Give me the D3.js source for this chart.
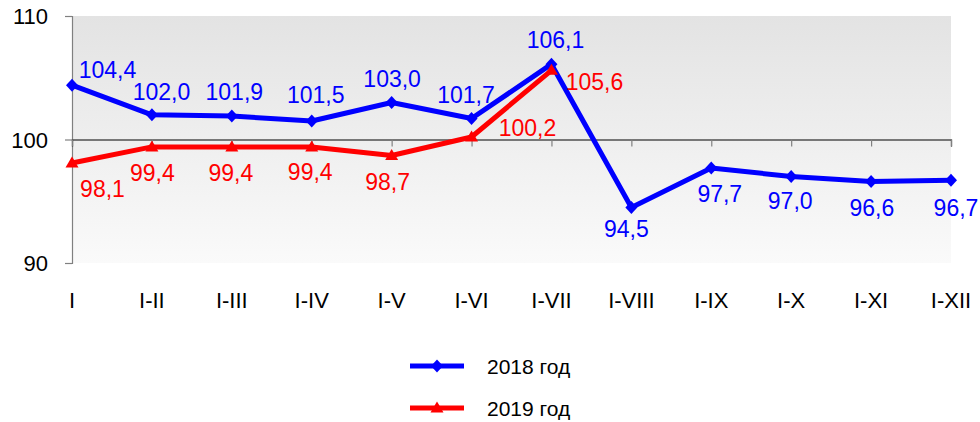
<!DOCTYPE html>
<html>
<head>
<meta charset="utf-8">
<script src="https://cdn.jsdelivr.net/npm/d3@7"></script>
<style>
  html, body { margin: 0; padding: 0; background: #ffffff; }
  svg { display: block; font-family: "Liberation Sans", Arial, sans-serif; }
</style>
</head>
<body>
<div id="chart"></div>
<script>
// ---- data ----
const categories = ["I", "I-II", "I-III", "I-IV", "I-V", "I-VI", "I-VII", "I-VIII", "I-IX", "I-X", "I-XI", "I-XII"];
const values2018 = [104.4, 102.0, 101.9, 101.5, 103.0, 101.7, 106.1, 94.5, 97.7, 97.0, 96.6, 96.7];
const values2019 = [98.1, 99.4, 99.4, 99.4, 98.7, 100.2, 105.6];
const yTicks = [90, 100, 110];
const seriesNames = ["2018 год", "2019 год"];

// label placement (dx, dy relative to point) – layout only
const labelOffsets2018 = [[35.5, -7], [9.5, -15], [2.5, -16], [4, -18], [0.5, -15.5], [-5.5, -15.5], [4, -16], [-5, 30], [8.5, 34], [-1, 32.5], [0.8, 34.5], [5, 36]];
const labelOffsets2019 = [[30.5, 34], [0.5, 34], [-1, 34], [-1.5, 33], [-4, 34.5], [56, -1], [43, 20]];

const W = 980, H = 422;
const mLeft = 72, mRight = 951, mTop = 16, mBottom = 263;

const svg = d3.select("#chart").append("svg").attr("width", W).attr("height", H);

const x = d3.scalePoint().domain(categories).range([mLeft, mRight]).padding(0);
const y = d3.scaleLinear().domain([90, 110]).range([mBottom, mTop]);

// background gradient
const defs = svg.append("defs");
const grad = defs.append("linearGradient").attr("id", "bg").attr("x1", 0).attr("y1", 0).attr("x2", 0).attr("y2", 1);
grad.append("stop").attr("offset", "0%").attr("stop-color", "#e3e3e3");
grad.append("stop").attr("offset", "100%").attr("stop-color", "#fafafa");

svg.append("rect").attr("x", mLeft).attr("y", mTop).attr("width", mRight - mLeft).attr("height", mBottom - mTop).attr("fill", "url(#bg)");

// y axis
const yAxis = d3.axisLeft(y).tickValues(yTicks).tickSize(7).tickPadding(17).tickFormat(d3.format("d"));
const gy = svg.append("g").attr("transform", `translate(${mLeft},0)`).call(yAxis);
gy.select(".domain").attr("stroke", "#808080").attr("stroke-width", 1.2);
gy.selectAll(".tick line").attr("stroke", "#808080").attr("stroke-width", 1.2);
gy.selectAll(".tick text").attr("font-size", 22).attr("fill", "#000").attr("font-family", "Liberation Sans, Arial, sans-serif").attr("dy", "0.36em");

// x axis crossing at 100
const xAxis = d3.axisBottom(x).tickSize(7).tickFormat("");
const gx = svg.append("g").attr("transform", `translate(0,${y(100)})`).call(xAxis);
gx.select(".domain").attr("stroke", "#000").attr("stroke-width", 1.2);
gx.selectAll(".tick line").attr("stroke", "#808080").attr("stroke-width", 1.2);

// category labels at bottom
svg.append("g").selectAll("text").data(categories).join("text")
  .attr("x", d => x(d)).attr("y", 308)
  .attr("text-anchor", "middle").attr("font-size", 22).attr("fill", "#000")
  .text(d => d);

const diamond = "M0,-6.5L6,0L0,6.5L-6,0Z";
const triangle = "M0,-6.5L6.5,4.5L-6.5,4.5Z";
const fmt = v => d3.format(".1f")(v).replace(".", ",");

function drawSeries(vals, color, shape, offsets) {
  const data = vals.map((v, i) => ({ c: categories[i], v, i }));
  const line = d3.line().x(d => x(d.c)).y(d => y(d.v));
  svg.append("path").datum(data).attr("d", line)
    .attr("fill", "none").attr("stroke", color).attr("stroke-width", 5).attr("stroke-linejoin", "round");
  svg.append("g").selectAll("path").data(data).join("path")
    .attr("d", shape).attr("fill", color)
    .attr("transform", d => `translate(${x(d.c)},${y(d.v)})`);
  svg.append("g").selectAll("text").data(data).join("text")
    .attr("x", d => x(d.c) + offsets[d.i][0])
    .attr("y", d => y(d.v) + offsets[d.i][1])
    .attr("text-anchor", "middle").attr("font-size", 23).attr("fill", color)
    .text(d => fmt(d.v));
}

drawSeries(values2018, "#0000ff", diamond, labelOffsets2018);
drawSeries(values2019, "#ff0000", triangle, labelOffsets2019);

// legend
const legend = [
  { name: seriesNames[0], color: "#0000ff", shape: diamond, cy: 366 },
  { name: seriesNames[1], color: "#ff0000", shape: triangle, cy: 408 }
];
const lg = svg.append("g").selectAll("g").data(legend).join("g");
lg.append("line").attr("x1", 410).attr("x2", 464).attr("y1", d => d.cy).attr("y2", d => d.cy)
  .attr("stroke", d => d.color).attr("stroke-width", 5);
lg.append("path").attr("d", d => d.shape).attr("fill", d => d.color)
  .attr("transform", d => `translate(437,${d.cy})`);
lg.append("text").attr("x", 487).attr("y", d => d.cy + 8).attr("font-size", 21).attr("fill", "#000")
  .text(d => d.name);
</script>
</body>
</html>
